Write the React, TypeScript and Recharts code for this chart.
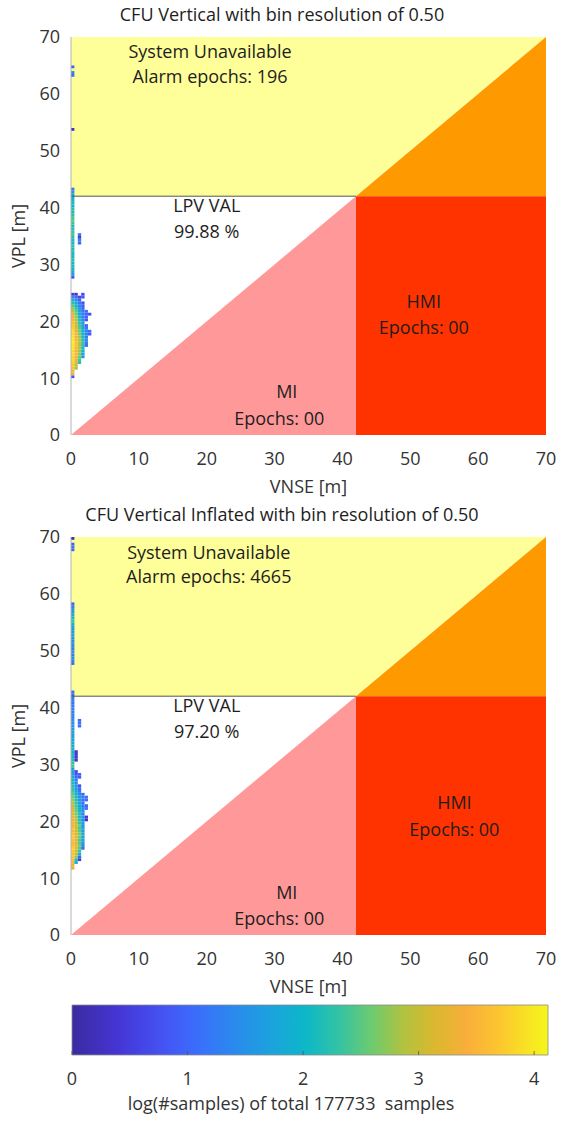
import React from "react";
import {
  ComposedChart,
  Area,
  XAxis,
  YAxis,
  ReferenceArea,
  ReferenceLine,
  ReferenceDot,
} from "recharts";

const AXIS_MAX = 70;
const ALERT_LIMIT = 42;
const BIN = 0.5;
const AXIS_TICKS = [0, 10, 20, 30, 40, 50, 60, 70];
const CBAR_TICKS = [0, 1, 2, 3, 4];
const CBAR_MAX = 4.12;

// ---- panel 1: CFU Vertical ----
// rows: [VPL lower edge, log count for VNSE bin 0, 0.5, 1.0, ...]
const p1Cluster: number[][] = [
  [10.0, 0.8],
  [10.5, 3.3],
  [11.0, 3.5],
  [11.5, 3.6, 2.8],
  [12.0, 3.7, 3.0],
  [12.5, 3.8, 3.2, 2.2],
  [13.0, 3.9, 3.3, 2.4],
  [13.5, 3.8, 3.4, 2.6, 1.6],
  [14.0, 3.9, 3.5, 2.7, 1.8],
  [14.5, 3.9, 3.4, 2.8, 2.0],
  [15.0, 4.0, 3.5, 2.9, 2.1],
  [15.5, 4.0, 3.6, 2.8, 2.2, 1.0],
  [16.0, 4.1, 3.6, 3.0, 2.3, 1.2],
  [16.5, 4.0, 3.5, 2.9, 2.2, 1.4],
  [17.0, 4.0, 3.4, 2.8, 2.1, 1.2],
  [17.5, 3.9, 3.5, 2.7, 2.0, 1.3, 0.9],
  [18.0, 3.9, 3.3, 2.6, 2.0, 1.4, 1.1],
  [18.5, 3.8, 3.2, 2.5, 1.8, 1.2],
  [19.0, 3.7, 3.1, 2.4, 1.7, 1.0],
  [19.5, 3.6, 3.0, 2.3, 1.6],
  [20.0, 3.5, 2.9, 2.2, 1.4, 0.8],
  [20.5, 3.4, 2.8, 2.0, 1.3, 0.9],
  [21.0, 3.2, 2.6, 1.8, 1.2, 1.0, 0.8],
  [21.5, 3.0, 2.5, 1.7, 1.2, 1.1],
  [22.0, 2.8, 2.3, 1.6, 1.0],
  [22.5, 2.5, 2.0, 1.4, 0.9],
  [23.0, 2.2, 1.8, 1.2, 0.8],
  [23.5, 1.9, 1.5, 0.9],
  [24.0, 1.4, 1.0, 0.6, 0.9],
  [24.5, 0.5, 0.4, 0, 0.7],
];
const p1ColumnStart = 27.5;
const p1Column = [
  0.8, 1.6, 1.9, 2.0, 2.1, 2.0, 2.2, 2.1, 2.0, 2.2, 2.1, 2.3, 2.0, 2.1, 2.2, 2.4,
  2.3, 2.2, 2.1, 2.3, 2.5, 2.4, 2.2, 2.1, 2.2, 2.0, 2.1, 2.0, 1.9, 1.8, 1.5, 1.2,
];
// [VNSE, VPL, log count]
const p1Strays: number[][] = [
  [0, 64.5, 1.0],
  [0, 63.5, 1.3],
  [0, 63.0, 1.1],
  [0, 53.5, 0.3],
  [1, 35.0, 1.2],
  [1, 34.5, 0.5],
  [1, 34.0, 1.3],
  [1, 33.5, 1.0],
];

// ---- panel 2: CFU Vertical Inflated ----
const p2Cluster: number[][] = [
  [11.5, 3.2],
  [12.0, 3.4],
  [12.5, 3.5, 1.8],
  [13.0, 3.6, 2.2, 0.5],
  [13.5, 3.7, 2.8, 1.0],
  [14.0, 3.6, 3.0, 2.0],
  [14.5, 3.7, 3.1, 2.3],
  [15.0, 3.8, 3.2, 2.5, 1.0],
  [15.5, 3.6, 3.3, 2.6, 1.4],
  [16.0, 3.5, 3.2, 2.5, 1.6],
  [16.5, 3.6, 3.3, 2.4, 1.8],
  [17.0, 3.7, 3.2, 2.6, 1.7],
  [17.5, 3.6, 3.1, 2.7, 1.9],
  [18.0, 3.5, 3.0, 2.5, 1.6],
  [18.5, 3.6, 3.1, 2.4, 1.8],
  [19.0, 3.4, 3.0, 2.6, 1.5],
  [19.5, 3.5, 2.9, 2.3, 1.7],
  [20.0, 3.3, 3.0, 2.2, 1.4, 0.3],
  [20.5, 3.4, 2.8, 2.1, 1.6, 0.4],
  [21.0, 3.2, 2.7, 2.2, 1.3],
  [21.5, 3.3, 2.6, 2.0, 1.5],
  [22.0, 3.1, 2.5, 1.9, 1.4, 1.2],
  [22.5, 3.0, 2.4, 1.8, 1.2, 1.0],
  [23.0, 2.9, 2.3, 1.7, 1.1],
  [23.5, 2.8, 2.2, 1.6, 1.2, 1.0],
  [24.0, 2.6, 2.1, 1.5, 1.3, 1.1],
  [24.5, 2.5, 2.0, 1.4, 1.0],
  [25.0, 2.4, 1.8, 1.2],
  [25.5, 2.3, 1.7, 1.1],
  [26.0, 2.2, 1.5, 0.8],
  [26.5, 2.1, 1.4],
  [27.0, 2.0, 1.2],
  [27.5, 1.9, 1.0, 0.9],
  [28.0, 1.8, 0.8, 1.0],
  [28.5, 1.7, 0.6],
  [29.0, 1.6],
];
const p2ColumnStart = 29.5;
const p2Column = [
  2.4, 2.3, 2.2, 2.0, 2.1, 1.9, 2.0, 1.8, 1.9, 1.7, 1.8, 1.6, 1.7, 1.5, 1.6, 1.4,
  1.5, 1.3, 1.4, 1.2, 1.3, 1.2, 1.1, 1.3, 1.2, 1.0, 1.1,
];
const p2UpperStart = 47.5;
const p2Upper = [
  1.0, 1.3, 1.4, 1.2, 1.5, 1.3, 1.4, 1.6, 1.4, 1.5, 1.7, 1.5, 1.6, 1.8, 2.0, 2.3,
  2.1, 1.9, 1.6, 1.5, 1.3, 1.0,
];
const p2Strays: number[][] = [
  [0, 69.5, 0.2],
  [0, 68.5, 1.0],
  [0, 68.0, 1.2],
  [0, 67.5, 1.0],
  [0.5, 30.5, 0.3],
  [0.5, 31.0, 0.4],
  [0.5, 31.5, 0.3],
  [0.5, 32.0, 0.4],
  [1, 36.5, 1.1],
  [1, 37.0, 1.2],
  [1, 37.5, 1.0],
];

type Note = { x: number; y: number; text: string };

const p1Notes: Note[] = [
  { x: 20.5, y: 67.5, text: "System Unavailable" },
  { x: 20.5, y: 63.0, text: "Alarm epochs: 196" },
  { x: 20, y: 40.3, text: "LPV VAL" },
  { x: 20, y: 35.7, text: "99.88 %" },
  { x: 31.8, y: 7.6, text: "MI" },
  { x: 30.7, y: 2.8, text: "Epochs: 00" },
  { x: 52, y: 23.4, text: "HMI" },
  { x: 52, y: 18.8, text: "Epochs: 00" },
];

const p2Notes: Note[] = [
  { x: 20.3, y: 67.2, text: "System Unavailable" },
  { x: 20.3, y: 63.0, text: "Alarm epochs: 4665" },
  { x: 20, y: 40.3, text: "LPV VAL" },
  { x: 20, y: 35.7, text: "97.20 %" },
  { x: 31.8, y: 7.4, text: "MI" },
  { x: 30.7, y: 2.8, text: "Epochs: 00" },
  { x: 56.5, y: 23.2, text: "HMI" },
  { x: 56.5, y: 18.5, text: "Epochs: 00" },
];

// Stanford-plot regions
const unavailableRegion = [
  { x: 0, y: [ALERT_LIMIT, AXIS_MAX] },
  { x: ALERT_LIMIT, y: [ALERT_LIMIT, AXIS_MAX] },
  { x: AXIS_MAX, y: [AXIS_MAX, AXIS_MAX] },
];
const unavailableMiRegion = [
  { x: ALERT_LIMIT, y: [ALERT_LIMIT, ALERT_LIMIT] },
  { x: AXIS_MAX, y: [ALERT_LIMIT, AXIS_MAX] },
];
const hmiRegion = [
  { x: ALERT_LIMIT, y: [0, ALERT_LIMIT] },
  { x: AXIS_MAX, y: [0, ALERT_LIMIT] },
];
const miRegion = [
  { x: 0, y: [0, 0] },
  { x: ALERT_LIMIT, y: [0, ALERT_LIMIT] },
];
// colour bar strip, full log range
const cbarStrip = [
  { x: 0, y: [0, 1] },
  { x: CBAR_MAX, y: [0, 1] },
];

const FONT = "'Open Sans', sans-serif";
const TEXT = "#333333";
const NOTE = "#1e1e1e";

const PARULA: [number, string][] = [
  [0.0, "#3b2aa0"],
  [0.1, "#4536d6"],
  [0.2, "#4456f5"],
  [0.27, "#3a70fb"],
  [0.33, "#2c86ef"],
  [0.42, "#1ba3dd"],
  [0.49, "#0cb7c8"],
  [0.56, "#33c3a4"],
  [0.63, "#6dcb6f"],
  [0.7, "#b4c23e"],
  [0.76, "#d9b82e"],
  [0.83, "#f9ae3a"],
  [0.9, "#fcc72f"],
  [1.0, "#f5f71b"],
];

function rgb(hex: string) {
  const n = parseInt(hex.slice(1), 16);
  return [(n >> 16) & 255, (n >> 8) & 255, n & 255];
}

function parula(v: number) {
  const t = Math.min(1, Math.max(0, v / CBAR_MAX));
  for (let i = 1; i < PARULA.length; i++) {
    const [o1, c1] = PARULA[i];
    const [o0, c0] = PARULA[i - 1];
    if (t <= o1) {
      const f = (t - o0) / (o1 - o0);
      const a = rgb(c0);
      const b = rgb(c1);
      const c = a.map((ch, k) => Math.round(ch + (b[k] - ch) * f));
      return `rgb(${c[0]},${c[1]},${c[2]})`;
    }
  }
  return PARULA[PARULA.length - 1][1];
}

type Bin = { x: number; y: number; v: number };

function toBins(
  cluster: number[][],
  columns: [number, number[]][],
  strays: number[][]
): Bin[] {
  const out: Bin[] = [];
  cluster.forEach(([vpl, ...vals]) =>
    vals.forEach((v, i) => {
      if (v > 0) out.push({ x: i * BIN, y: vpl, v });
    })
  );
  columns.forEach(([start, vals]) =>
    vals.forEach((v, i) => out.push({ x: 0, y: start + i * BIN, v }))
  );
  strays.forEach(([x, y, v]) => out.push({ x, y, v }));
  return out;
}

const p1Bins = toBins(p1Cluster, [[p1ColumnStart, p1Column]], p1Strays);
const p2Bins = toBins(
  p2Cluster,
  [
    [p2ColumnStart, p2Column],
    [p2UpperStart, p2Upper],
  ],
  p2Strays
);

const tickStyle = { fill: TEXT, fontSize: 18, fontFamily: FONT };

function Panel({ title, bins, notes }: { title: string; bins: Bin[]; notes: Note[] }) {
  return (
    <ComposedChart
      width={562}
      height={500}
      margin={{ top: 37, right: 16, left: 0, bottom: 0 }}
    >
      <XAxis
        type="number"
        dataKey="x"
        domain={[0, AXIS_MAX]}
        ticks={AXIS_TICKS}
        interval={0}
        allowDataOverflow
        axisLine={false}
        tickLine={false}
        tickSize={0}
        tickMargin={17}
        height={65}
        tick={tickStyle}
        label={(props: any) => {
          const vb = props.viewBox || {};
          return (
            <text
              x={vb.x + vb.width / 2}
              y={vb.y + 58}
              textAnchor="middle"
              fill={TEXT}
              fontSize={18}
              fontFamily={FONT}
            >
              VNSE [m]
            </text>
          );
        }}
      />
      <YAxis
        type="number"
        domain={[0, AXIS_MAX]}
        ticks={AXIS_TICKS}
        interval={0}
        allowDataOverflow
        width={71}
        axisLine={{ stroke: "#b4b4b4" }}
        tickLine={false}
        tickSize={0}
        tickMargin={11}
        tick={tickStyle}
        label={(props: any) => {
          const vb = props.viewBox || {};
          const cx = 18;
          const cy = vb.y + vb.height / 2;
          return (
            <text
              x={cx}
              y={cy}
              transform={`rotate(-90, ${cx}, ${cy})`}
              textAnchor="middle"
              dominantBaseline="central"
              fill={TEXT}
              fontSize={18}
              fontFamily={FONT}
            >
              VPL [m]
            </text>
          );
        }}
      />
      <Area
        data={unavailableRegion}
        dataKey="y"
        type="linear"
        stroke="none"
        fill="#ffff99"
        fillOpacity={1}
        dot={false}
        activeDot={false}
        isAnimationActive={false}
      />
      <Area
        data={unavailableMiRegion}
        dataKey="y"
        type="linear"
        stroke="none"
        fill="#ff9900"
        fillOpacity={1}
        dot={false}
        activeDot={false}
        isAnimationActive={false}
      />
      <Area
        data={hmiRegion}
        dataKey="y"
        type="linear"
        stroke="none"
        fill="#ff3300"
        fillOpacity={1}
        dot={false}
        activeDot={false}
        isAnimationActive={false}
      />
      <Area
        data={miRegion}
        dataKey="y"
        type="linear"
        stroke="none"
        fill="#ff9999"
        fillOpacity={1}
        dot={false}
        activeDot={false}
        isAnimationActive={false}
      />
      <ReferenceLine
        segment={[
          { x: 0, y: ALERT_LIMIT },
          { x: ALERT_LIMIT, y: ALERT_LIMIT },
        ]}
        stroke="#555555"
        strokeWidth={1}
      />
      {bins.map((b, i) => (
        <ReferenceArea
          key={i}
          x1={b.x}
          x2={b.x + BIN}
          y1={b.y}
          y2={b.y + BIN}
          fill={parula(b.v)}
          fillOpacity={1}
          stroke="none"
          zIndex={150}
        />
      ))}
      {notes.map((n, i) => (
        <ReferenceDot
          key={i}
          x={n.x}
          y={n.y}
          r={0}
          fill="none"
          stroke="none"
          label={{
            value: n.text,
            position: "center",
            fill: NOTE,
            fontSize: 18,
            fontFamily: FONT,
          }}
        />
      ))}
      <text
        x={282}
        y={20.5}
        textAnchor="middle"
        fill={NOTE}
        fontSize={18}
        fontFamily={FONT}
      >
        {title}
      </text>
    </ComposedChart>
  );
}

function Colorbar() {
  return (
    <ComposedChart
      width={562}
      height={128}
      margin={{ top: 10, right: 14, left: 72, bottom: 0 }}
    >
      <defs>
        <linearGradient id="parula" x1="0" y1="0" x2="1" y2="0">
          {PARULA.map(([o, c]) => (
            <stop key={o} offset={o} stopColor={c} />
          ))}
        </linearGradient>
      </defs>
      <XAxis
        type="number"
        dataKey="x"
        domain={[0, CBAR_MAX]}
        ticks={CBAR_TICKS}
        interval={0}
        allowDataOverflow
        axisLine={false}
        tickLine={false}
        tickSize={0}
        tickMargin={17.5}
        height={68}
        tick={tickStyle}
        label={(props: any) => {
          const vb = props.viewBox || {};
          return (
            <text
              x={291}
              y={vb.y + 54.5}
              textAnchor="middle"
              fill={TEXT}
              fontSize={18}
              fontFamily={FONT}
              style={{ whiteSpace: "pre" }}
            >
              {"log(#samples) of total 177733  samples"}
            </text>
          );
        }}
      />
      <YAxis
        type="number"
        domain={[0, 1]}
        allowDataOverflow
        width={0}
        tick={false}
        axisLine={false}
        tickLine={false}
      />
      <Area
        data={cbarStrip}
        dataKey="y"
        type="linear"
        stroke="none"
        fill="url(#parula)"
        fillOpacity={1}
        dot={false}
        activeDot={false}
        isAnimationActive={false}
      />
      <ReferenceArea
        x1={0}
        x2={CBAR_MAX}
        y1={0}
        y2={1}
        fill="none"
        fillOpacity={0}
        stroke="#8c8c8c"
        strokeWidth={0.8}
        zIndex={150}
      />
      {CBAR_TICKS.map((t) => (
        <ReferenceLine
          key={t}
          segment={[
            { x: t, y: 0 },
            { x: t, y: 0.08 },
          ]}
          stroke="#555555"
          strokeWidth={0.8}
        />
      ))}
    </ComposedChart>
  );
}

export default function App() {
  return (
    <div
      style={{
        position: "absolute",
        left: 0,
        top: 0,
        width: 562,
        height: 1123,
        background: "#ffffff",
      }}
    >
      <div style={{ position: "absolute", left: 0, top: 0 }}>
        <Panel title="CFU Vertical with bin resolution of 0.50" bins={p1Bins} notes={p1Notes} />
      </div>
      <div style={{ position: "absolute", left: 0, top: 500 }}>
        <Panel
          title="CFU Vertical Inflated with bin resolution of 0.50"
          bins={p2Bins}
          notes={p2Notes}
        />
      </div>
      <div style={{ position: "absolute", left: 0, top: 995 }}>
        <Colorbar />
      </div>
    </div>
  );
}
